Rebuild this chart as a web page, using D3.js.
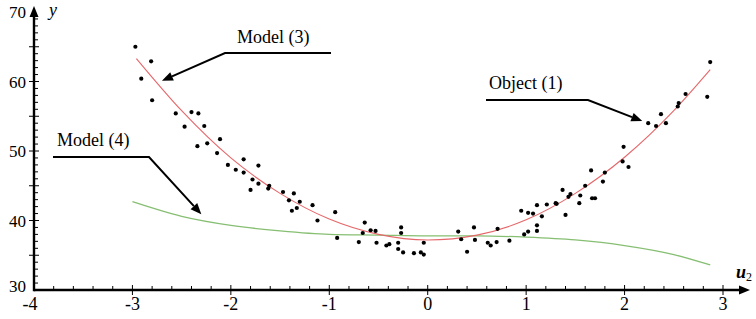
<!DOCTYPE html>
<html>
<head>
<meta charset="utf-8">
<script src="https://cdn.jsdelivr.net/npm/d3@7"></script>
<style>
body { margin: 0; background: #fff; }
text { font-family: "Liberation Serif", "DejaVu Serif", serif; fill: #000; }
</style>
</head>
<body>
<script>
(function(){

//observed points (u2, y)
var pointsX = [-2.97,-2.81,-2.91,-2.80,-2.56,-2.40,-2.33,-2.47,-2.27,-2.34,-2.24,-2.11,-2.14,-2.03,-1.95,-1.87,-1.87,-1.72,-1.78,-1.72,
    -1.61,-1.62,-1.80,-1.47,-1.36,-1.41,-1.30,-1.33,-1.38,-1.17,-1.12,-0.94,-0.92,-0.70,-0.64,-0.66,-0.58,-0.53,-0.52,-0.42,
    -0.39,-0.30,-0.27,-0.27,-0.30,-0.25,-0.14,-0.07,-0.04,-0.04,0.31,0.34,0.40,0.47,0.48,0.61,0.64,0.70,0.71,0.83,
    0.95,1.02,1.07,0.98,1.02,1.11,1.11,1.11,1.16,1.21,1.30,1.31,1.40,1.37,1.45,1.43,1.54,1.55,1.60,1.66,
    1.67,1.70,1.80,1.78,1.99,1.98,2.04,2.24,2.32,2.37,2.42,2.54,2.55,2.62,2.84,2.87];
var pointsY = [65.0,62.9,60.4,57.3,55.4,55.6,55.4,53.5,53.6,50.7,51.1,51.7,49.7,48.0,47.3,48.8,46.9,47.9,45.9,45.3,
    45.0,44.6,44.4,44.1,43.9,42.9,42.7,41.8,41.4,42.2,40.0,41.2,37.5,36.9,39.7,38.2,38.6,38.5,36.8,36.4,
    36.6,36.8,39.0,38.2,35.9,35.4,35.3,35.4,35.1,36.8,38.4,37.3,35.5,39.0,37.2,36.8,36.4,36.9,38.8,37.1,
    41.4,41.1,41.0,38.0,38.4,39.3,38.5,42.2,40.6,42.3,42.5,42.4,40.8,44.4,43.8,43.4,42.5,43.6,45.0,47.2,
    43.2,43.2,46.9,45.6,50.6,48.5,47.7,54.0,53.6,55.3,54.0,56.4,56.9,58.2,57.8,62.8];

//model (3) curve, red
var model3X = [-2.96,-2.5,-2,-1.5,-1,-0.5,0,0.5,1,1.5,2,2.5,2.87];
var model3Y = [63.3,55.8,49.0,43.9,40.2,38.0,37.2,37.9,40.1,43.9,49.1,55.8,61.7];

//model (4) curve, green
var model4X = [-3,-2.5,-2,-1.5,-1,-0.5,0,0.5,1,1.5,2,2.5,2.87];
var model4Y = [42.7,40.6,39.3,38.5,38.0,37.9,37.8,37.8,37.6,37.2,36.4,35.1,33.6];

//tick labels
var xTickValues = [-4,-3,-2,-1,0,1,2,3];
var yTickValues = [30,40,50,60,70];

var width = 756,
    height = 319;

var svg = d3.select("body")
    .append("svg")
    .attr("width", width)
    .attr("height", height);

var x = d3.scaleLinear().domain([-4, 3]).range([34, 723]);
var y = d3.scaleLinear().domain([30, 70]).range([290, 12]);

//curves
var line = d3.line()
    .x(function(d){ return x(d[0]); })
    .y(function(d){ return y(d[1]); })
    .curve(d3.curveMonotoneX);

svg.append("path")
    .datum(d3.zip(model4X, model4Y))
    .attr("d", line)
    .attr("fill", "none")
    .attr("stroke", "#86bf72")
    .attr("stroke-width", 1.3);

svg.append("path")
    .datum(d3.zip(model3X, model3Y))
    .attr("d", line)
    .attr("fill", "none")
    .attr("stroke", "#e5676a")
    .attr("stroke-width", 1.1);

//points
svg.selectAll(".pt")
    .data(d3.zip(pointsX, pointsY))
    .enter()
    .append("circle")
    .attr("class", "pt")
    .attr("cx", function(d){ return x(d[0]); })
    .attr("cy", function(d){ return y(d[1]); })
    .attr("r", 2.1)
    .attr("fill", "#000");

//axes
var x0 = x(-4), y0 = y(30);
var xEnd = 750, yTop = 6;

svg.append("line")
    .attr("x1", x0).attr("y1", y0).attr("x2", xEnd - 6).attr("y2", y0)
    .attr("stroke", "#000").attr("stroke-width", 2.4);
svg.append("line")
    .attr("x1", x0).attr("y1", y0 + 1.2).attr("x2", x0).attr("y2", yTop + 6)
    .attr("stroke", "#000").attr("stroke-width", 2.4);

//arrow heads
svg.append("path")
    .attr("d", "M" + xEnd + "," + y0 + "L" + (xEnd - 11) + "," + (y0 - 4.5) + "L" + (xEnd - 11) + "," + (y0 + 4.5) + "Z")
    .attr("fill", "#000");
svg.append("path")
    .attr("d", "M" + x0 + "," + yTop + "L" + (x0 - 4.5) + "," + (yTop + 11) + "L" + (x0 + 4.5) + "," + (yTop + 11) + "Z")
    .attr("fill", "#000");

//x minor ticks (every 0.2), major ticks at integers
var xMinor = d3.range(-4, 3.01, 0.2).filter(function(v){ return Math.abs(v - Math.round(v)) > 0.01; });
svg.selectAll(".xminor")
    .data(xMinor)
    .enter()
    .append("line")
    .attr("x1", function(d){ return x(d); }).attr("x2", function(d){ return x(d); })
    .attr("y1", y0).attr("y2", y0 - 4)
    .attr("stroke", "#000").attr("stroke-width", 1);
svg.selectAll(".xmajor")
    .data(xTickValues.slice(1))
    .enter()
    .append("line")
    .attr("x1", function(d){ return x(d); }).attr("x2", function(d){ return x(d); })
    .attr("y1", y0 - 5).attr("y2", y0 + 5)
    .attr("stroke", "#000").attr("stroke-width", 1);

//y minor ticks (every 1), major ticks every 5
var yMinor = d3.range(31, 70, 1).filter(function(v){ return v % 5 != 0; });
svg.selectAll(".yminor")
    .data(yMinor)
    .enter()
    .append("line")
    .attr("x1", x0).attr("x2", x0 + 4)
    .attr("y1", function(d){ return y(d); }).attr("y2", function(d){ return y(d); })
    .attr("stroke", "#000").attr("stroke-width", 1);
svg.selectAll(".ymajor")
    .data(d3.range(35, 70, 5))
    .enter()
    .append("line")
    .attr("x1", x0 - 5).attr("x2", x0 + 5)
    .attr("y1", function(d){ return y(d); }).attr("y2", function(d){ return y(d); })
    .attr("stroke", "#000").attr("stroke-width", 1);

//tick labels
svg.selectAll(".xlab")
    .data(xTickValues)
    .enter()
    .append("text")
    .attr("x", function(d){ return x(d) - (d == -4 ? 4 : 0); })
    .attr("y", 310)
    .attr("text-anchor", "middle")
    .style("font-size", "18px")
    .text(function(d){ return d < 0 ? "-" + Math.abs(d) : d; });

svg.selectAll(".ylab")
    .data(yTickValues)
    .enter()
    .append("text")
    .attr("x", 26)
    .attr("y", function(d){ return y(d) + 6 - (d == 30 ? 4 : 0); })
    .attr("text-anchor", "end")
    .style("font-size", "17px")
    .text(function(d){ return d; });

//axis titles
svg.append("text")
    .attr("x", 49).attr("y", 16)
    .style("font-size", "18px").style("font-style", "italic")
    .text("y");
var u = svg.append("text")
    .attr("x", 736).attr("y", 278)
    .style("font-size", "18px").style("font-style", "italic").style("font-weight", "bold");
u.append("tspan").text("u");
u.append("tspan").attr("dy", 3).style("font-size", "12px").style("font-style", "normal").style("font-weight", "normal").text("2");

//annotations: text, leader line, arrow tip (in data units)
var notes = [
    {label: "Model (3)", tx: 237, ty: 43, lx1: 225, lx2: 331, ly: 53, tip: [-2.70, 60.1]},
    {label: "Object (1)", tx: 489, ty: 89, lx1: 486, lx2: 588, ly: 100, tip: [2.18, 54.3], right: true},
    {label: "Model (4)", tx: 57, ty: 146, lx1: 53, lx2: 149, ly: 157, tip: [-2.30, 40.9], right: true}
];

notes.forEach(function(n){
    svg.append("text")
        .attr("x", n.tx).attr("y", n.ty)
        .style("font-size", "18px")
        .text(n.label);
    var sx = n.right ? n.lx2 : n.lx1;
    var tx = x(n.tip[0]), ty = y(n.tip[1]);
    var ang = Math.atan2(ty - n.ly, tx - sx);
    var hl = 11, hw = 4.5;
    var bx = tx - hl * Math.cos(ang), by = ty - hl * Math.sin(ang);
    svg.append("path")
        .attr("d", "M" + (n.right ? n.lx1 : n.lx2) + "," + n.ly + "L" + sx + "," + n.ly + "L" + bx + "," + by)
        .attr("fill", "none")
        .attr("stroke", "#000")
        .attr("stroke-width", 2);
    svg.append("path")
        .attr("d", "M" + tx + "," + ty +
            "L" + (bx + hw * Math.sin(ang)) + "," + (by - hw * Math.cos(ang)) +
            "L" + (bx - hw * Math.sin(ang)) + "," + (by + hw * Math.cos(ang)) + "Z")
        .attr("fill", "#000");
});

})();
</script>
</body>
</html>
